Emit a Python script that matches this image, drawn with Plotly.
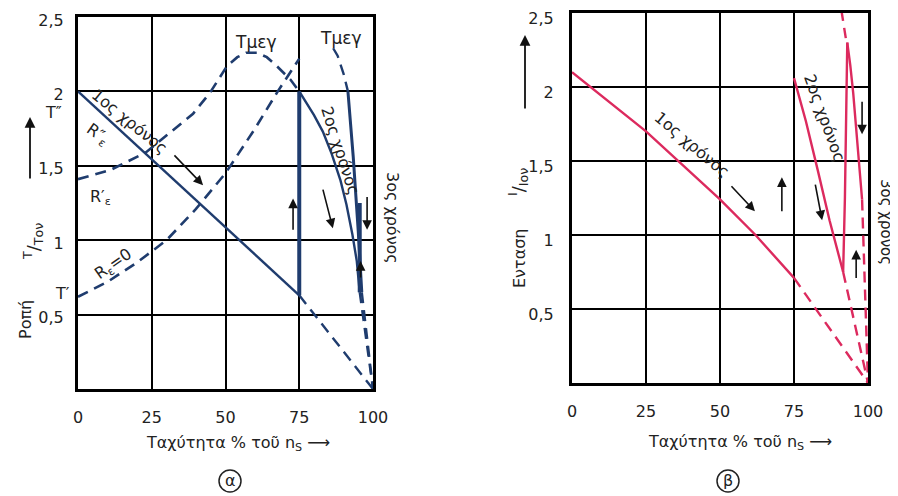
import plotly.graph_objects as go

# ---------------- data ----------------
# Panel (α): torque T/Ton vs speed % of nS
t1_x = [0, 75];                 t1_y = [2.0, 0.63]          # 1st step (solid)
t1d_x = [75, 100];              t1d_y = [0.63, 0.0]         # continuation (dashed)
j1_x = [75, 75];                j1_y = [0.63, 2.0]          # switching jump
rp_x = [0, 10.8, 23, 31, 39, 44.7, 50.5, 54, 57, 60.7, 64, 67.4, 72, 75]
rp_y = [1.41, 1.47, 1.59, 1.72, 1.85, 1.99, 2.17, 2.23, 2.26, 2.26, 2.23, 2.17, 2.08, 2.0]
t2_x = [75, 80, 83, 86, 89, 91, 93, 94.5, 95.5]
t2_y = [2.0, 1.84, 1.73, 1.58, 1.40, 1.24, 1.04, 0.86, 0.65]
t2d_x = [95.5, 100];            t2d_y = [0.65, 0.0]
r0_x = [0, 10, 20, 30, 40, 50, 60, 67.4, 75]
r0_y = [0.62, 0.72, 0.85, 1.0, 1.21, 1.45, 1.75, 1.99, 2.22]
t3t_x = [86.5, 88, 90, 91.5];   t3t_y = [2.29, 2.24, 2.12, 2.0]
t3_x = [91.5, 93.3, 95, 96.2];  t3_y = [2.0, 1.56, 1.06, 0.65]
t3d_x = [96.2, 100];            t3d_y = [0.65, 0.0]
j2_x = [95.5, 95.5];            j2_y = [0.65, 1.25]

# Panel (β): current I/Ion vs speed % of nS
i1_x = [0, 25, 50, 62, 75];     i1_y = [2.1, 1.7, 1.24, 1.0, 0.71]
i1d_x = [75, 100];              i1d_y = [0.71, 0.0]
i2_x = [75, 79, 83, 87, 91.6];  i2_y = [2.06, 1.77, 1.44, 1.1, 0.75]
i2d_x = [91.6, 100];            i2d_y = [0.75, 0.0]
ij_x = [91.6, 92.2, 93];        ij_y = [0.75, 1.25, 2.3]
i3t_x = [91.0, 92.5];           i3t_y = [2.52, 2.33]
i3_x = [93, 94, 95, 96.6, 98];  i3_y = [2.3, 2.15, 1.96, 1.57, 1.24]
i3d_x = [98, 99, 100];          i3d_y = [1.24, 0.6, 0.0]

x_ticks = [0, 25, 50, 75, 100]
x_text = ["0", "25", "50", "75", "100"]
y_ticks = [0.5, 1, 1.5, 2, 2.5]
y_text = ["0,5", "1", "1,5", "2", "2,5"]

BLUE = "#1f3c6e"
RED = "#dc2a5e"
FONT = "DejaVu Sans"
DASH = "11px,7px"

fig = go.Figure()

def add(x, y, color, axis, dash="solid", width=2.4):
    xa, ya = axis
    fig.add_trace(go.Scatter(x=x, y=y, mode="lines", xaxis=xa, yaxis=ya,
                             line=dict(color=color, width=width, dash=dash),
                             showlegend=False, hoverinfo="skip", cliponaxis=True))

L = ("x", "y")
R = ("x2", "y2")
add(t1_x, t1_y, BLUE, L)
add(t1d_x, t1d_y, BLUE, L, DASH)
add(j1_x, j1_y, BLUE, L, width=4)
add(rp_x, rp_y, BLUE, L, DASH, 2.6)
add(t2_x, t2_y, BLUE, L)
add(t2d_x, t2d_y, BLUE, L, DASH)
add(r0_x, r0_y, BLUE, L, DASH, 2.6)
add(t3t_x, t3t_y, BLUE, L, DASH)
add(t3_x, t3_y, BLUE, L, width=3)
add(t3d_x, t3d_y, BLUE, L, DASH)
add(j2_x, j2_y, BLUE, L, width=4)

add(i1_x, i1_y, RED, R)
add(i1d_x, i1d_y, RED, R, DASH)
add(i2_x, i2_y, RED, R)
add(i2d_x, i2d_y, RED, R, DASH)
add(ij_x, ij_y, RED, R)
add(i3t_x, i3t_y, RED, R, DASH)
add(i3_x, i3_y, RED, R)
add(i3d_x, i3d_y, RED, R, DASH)

# the page body has an 8px margin: the figure is placed at (8, 8)
OFF = 8
W, H = 898 - OFF, 496 - OFF
def PX(px): return (px - OFF) / W
def PY(py): return 1 - (py - OFF) / H
def dom_x(a, b): return [PX(a), PX(b)]
def dom_y(top, bot): return [PY(bot), PY(top)]

axis_common = dict(showgrid=True, gridcolor="black", gridwidth=2, zeroline=False,
                   showline=True, linecolor="black", linewidth=3, mirror=True,
                   ticks="", ticklabeloverflow="allow",
                   tickfont=dict(family=FONT, size=16, color="#222"))

fig.update_layout(
    width=W, height=H, margin=dict(l=0, r=0, t=0, b=0, autoexpand=False),
    paper_bgcolor="white", plot_bgcolor="white",
    font=dict(family=FONT, color="#222"),
    xaxis=dict(domain=dom_x(78, 373), range=[0, 100], tickvals=x_ticks, ticktext=x_text,
               anchor="y", ticklabelstandoff=12, **axis_common),
    yaxis=dict(domain=dom_y(17, 389), range=[0, 2.5], tickvals=y_ticks, ticktext=y_text,
               anchor="x", ticklabelstandoff=8, ticklabelshift=3, **axis_common),
    xaxis2=dict(domain=dom_x(572, 868), range=[0, 100], tickvals=x_ticks, ticktext=x_text,
                anchor="y2", ticklabelstandoff=12, **axis_common),
    yaxis2=dict(domain=dom_y(13, 383), range=[0, 2.5], tickvals=y_ticks, ticktext=y_text,
                anchor="x2", ticklabelstandoff=12, ticklabelshift=5, **axis_common),
)

def text(x, y, s, axis=L, angle=0, size=16, color="#222"):
    fig.add_annotation(x=x, y=y, xref=axis[0], yref=axis[1], text=s, showarrow=False,
                       textangle=angle, xanchor="center", yanchor="middle",
                       font=dict(family=FONT, size=size, color=color))

def arrow(x0, y0, x1, y1, axis=L):
    fig.add_annotation(x=x1, y=y1, ax=x0, ay=y0, xref=axis[0], yref=axis[1],
                       axref=axis[0], ayref=axis[1], text="", showarrow=True,
                       arrowhead=2, arrowsize=1.2, arrowwidth=1.6, arrowcolor="#111")

def ptext(px, py, s, angle=0, size=16):
    fig.add_annotation(x=PX(px), y=PY(py), xref="paper", yref="paper", text=s,
                       showarrow=False, textangle=angle, xanchor="center", yanchor="middle",
                       font=dict(family=FONT, size=size, color="#222"))

def parrow(px, py_tail, py_head):
    fig.add_annotation(x=PX(px), y=PY(py_head), xref="paper", yref="paper",
                       ax=0, ay=py_tail - py_head, text="", showarrow=True,
                       arrowhead=2, arrowsize=1.2, arrowwidth=1.8, arrowcolor="#111")

# panel α labels
text(60, 2.33, "Τμεγ", size=17)
text(89, 2.36, "Τμεγ", size=17)
text(17.6, 1.80, "1ος χρόνος", angle=39)
text(88.8, 1.60, "2ος χρόνος", angle=72)
ptext(393, 218, "3ος χρόνος", 90)
text(6.6, 1.71, "R″<sub>ε</sub>", angle=35)
text(7.5, 1.29, "R′<sub>ε</sub>")
text(12, 0.84, "R<sub>ε</sub>=0", angle=-35)
ptext(53, 112, "T″")
ptext(62, 293, "T′")
arrow(32.2, 1.58, 42.4, 1.37)
arrow(72.9, 1.06, 72.9, 1.28)
arrow(82.9, 1.35, 86.4, 1.08)
arrow(98, 1.30, 98, 1.07)
arrow(95.8, 0.74, 95.8, 0.86)

# panel β labels
text(40.5, 1.61, "1ος χρόνος", R, angle=40)
text(85.5, 1.79, "2ος χρόνος", R, angle=70)
ptext(886, 222, "3ος χρόνος", 90, 15)
arrow(53.4, 1.34, 61.8, 1.16, R)
arrow(70.9, 1.15, 70.9, 1.39, R)
arrow(82.1, 1.35, 84.5, 1.10, R)
arrow(98, 1.91, 98, 1.68, R)
arrow(96, 0.70, 96, 0.90, R)

# axis titles
ptext(25, 320, "Ροπή", -90)
ptext(33, 242, "<sup>T</sup>/<sub>Τον</sub>", -90, 18)
parrow(30, 180, 117)
ptext(520, 258, "Ενταση", -90)
ptext(518, 182, "<sup>I</sup>/<sub>Ιον</sub>", -90, 18)
parrow(525, 110, 35)
ptext(238, 443, "Ταχύτητα % τοῦ n<sub>S</sub> ⟶")
ptext(740, 442, "Ταχύτητα % τοῦ n<sub>S</sub> ⟶")
ptext(230, 480, "α")
ptext(728, 480, "β")
for cx in (230, 728):
    r = 11
    fig.add_shape(type="circle", xref="paper", yref="paper",
                  x0=PX(cx - r), x1=PX(cx + r), y0=PY(481 + r), y1=PY(481 - r),
                  line=dict(color="#222", width=1.5))

fig.write_html("out.html")
